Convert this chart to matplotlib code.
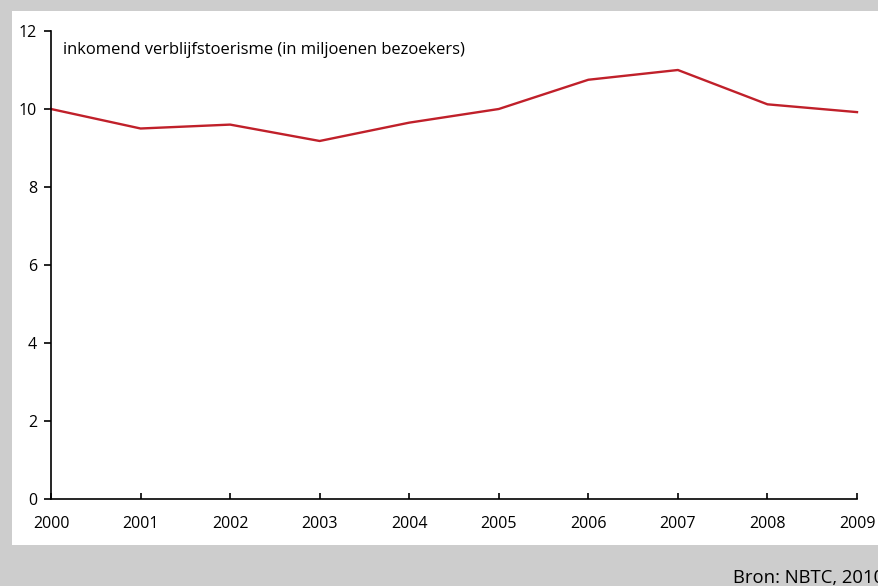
import matplotlib.pyplot as plt
from matplotlib.patches import Rectangle

plt.rcParams["font.family"] = ["Open Sans", "DejaVu Sans"]

YEARS = [2000, 2001, 2002, 2003, 2004, 2005, 2006, 2007, 2008, 2009]
VISITORS = [10.0, 9.5, 9.6, 9.18, 9.65, 10.0, 10.75, 11.0, 10.12, 9.92]
Y_TICKS = [0, 2, 4, 6, 8, 10, 12]

LINE_COLOR = "#c0202a"
BG_GRAY = "#cdcdcd"

W, H = 879, 586

fig = plt.figure(figsize=(W / 100, H / 100), dpi=100, facecolor=BG_GRAY)

# white panel behind the chart
fig.add_artist(Rectangle((12 / W, (H - 545) / H), 1 - 12 / W, (545 - 11) / H,
                         transform=fig.transFigure, facecolor="white",
                         edgecolor="none", zorder=-5))

ax = fig.add_axes([51 / W, (H - 499) / H, (857 - 51) / W, (499 - 31) / H])
ax.set_facecolor("none")
ax.plot(YEARS, VISITORS, color=LINE_COLOR, linewidth=1.7, clip_on=False)

ax.set_xlim(2000, 2009)
ax.set_ylim(0, 12)
ax.set_xticks(YEARS)
ax.set_yticks(Y_TICKS)
ax.tick_params(axis="x", direction="in", length=4, width=1.2, labelsize=11.5, pad=12)
ax.tick_params(axis="y", direction="out", length=5, width=1.2, labelsize=11.5, pad=5)
for side in ("top", "right"):
    ax.spines[side].set_visible(False)
for side in ("left", "bottom"):
    ax.spines[side].set_linewidth(1.2)

ax.text(63 / W, (H - 50) / H, "inkomend verblijfstoerisme (in miljoenen bezoekers)",
        transform=fig.transFigure, fontsize=11.9, va="center", ha="left")

fig.text(733 / W, (H - 578) / H, "Bron: NBTC, 2010", fontsize=13.3, va="center", ha="left")

fig.savefig("out.png", dpi=100, facecolor=BG_GRAY)
